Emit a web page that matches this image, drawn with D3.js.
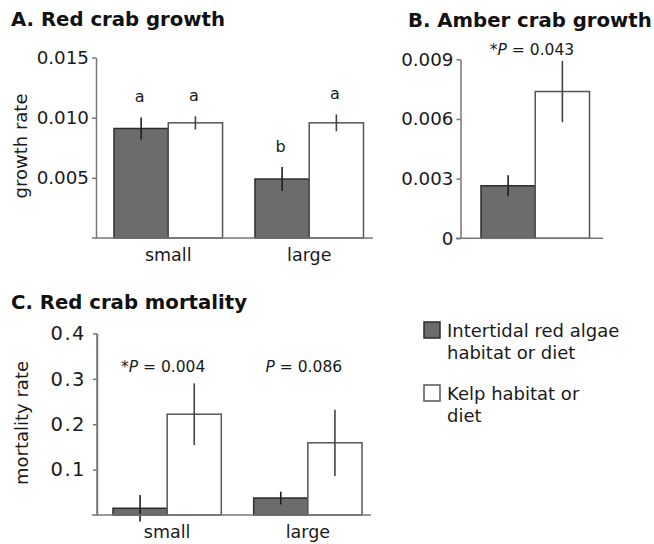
<!DOCTYPE html>
<html>
<head>
<meta charset="utf-8">
<script src="https://cdn.jsdelivr.net/npm/d3@7"></script>
<style>
  html, body { margin: 0; padding: 0; background: #fff; }
  svg { display: block; font-family: "DejaVu Sans", Verdana, sans-serif; }
  svg text { font-family: "DejaVu Sans", Verdana, sans-serif; }
  .title { font-weight: bold; font-size: 19.7px; fill: #111; }
  .tick text { font-size: 18.3px; fill: #1a1a1a; }
  .tick line { stroke: #777; stroke-width: 1.5; }
  .domain { stroke: #777; stroke-width: 1.5; }
  .ylab { font-size: 18px; fill: #1a1a1a; }
  .xlab { font-size: 17.5px; fill: #1a1a1a; }
  .note { font-size: 15.5px; fill: #1a1a1a; }
  .legend text { font-size: 18px; fill: #1a1a1a; }
</style>
</head>
<body>
<svg id="chart" width="654" height="544"></svg>
<script>
// Size classes and habitat/diet treatments
const sizeClasses = ["small", "large"];
const treatments = ["red", "kelp"];
const treatmentLabels = [["Intertidal red algae", "habitat or diet"], ["Kelp habitat or", "diet"]];

// A. Red crab growth (mean ± SE per size class)
const redGrowthRed = [0.0091, 0.0049];
const redGrowthRedSE = [0.00092, 0.0010];
const redGrowthKelp = [0.00957, 0.00957];
const redGrowthKelpSE = [0.00055, 0.0007];
const redGrowthLetters = [["a", "a"], ["b", "a"]];
const redGrowthTicks = [0.005, 0.010, 0.015];

// B. Amber crab growth
const amberGrowth = [0.00264, 0.00738];
const amberGrowthSE = [0.00053, 0.00154];
const amberP = { star: "*", value: "0.043" };
const amberTicks = [0, 0.003, 0.006, 0.009];

// C. Red crab mortality
const mortalityRed = [0.0148, 0.0374];
const mortalityRedSE = [0.029, 0.014];
const mortalityKelp = [0.222, 0.159];
const mortalityKelpSE = [0.068, 0.073];
const mortalityP = [{ star: "*", value: "0.004" }, { star: "", value: "0.086" }];
const mortalityTicks = [0.1, 0.2, 0.3, 0.4];

const fills = { red: "#6c6c6c", kelp: "#ffffff" };
const strokes = { red: "#2b2b2b", kelp: "#555555" };
const errColor = { red: "#1e1e1e", kelp: "#444444" };
const FONT = '"DejaVu Sans", Verdana, sans-serif';

const svg = d3.select("#chart");

function rows(redVals, redSE, kelpVals, kelpSE) {
  return sizeClasses.map((s, i) => ({
    group: s,
    bars: [
      { key: "red", v: redVals[i], e: redSE[i] },
      { key: "kelp", v: kelpVals[i], e: kelpSE[i] }
    ]
  }));
}

function drawBars(g, data, x0, x1, y) {
  const grp = g.selectAll("g.grp").data(data).join("g")
    .attr("class", "grp")
    .attr("transform", d => `translate(${x0(d.group)},0)`);
  grp.selectAll("rect").data(d => d.bars).join("rect")
    .attr("x", d => x1(d.key))
    .attr("width", x1.bandwidth())
    .attr("y", d => y(d.v))
    .attr("height", d => y(0) - y(d.v))
    .attr("fill", d => fills[d.key])
    .attr("stroke", d => strokes[d.key])
    .attr("stroke-width", 1.5);
  grp.selectAll("line.err").data(d => d.bars).join("line")
    .attr("class", "err")
    .attr("x1", d => x1(d.key) + x1.bandwidth() / 2)
    .attr("x2", d => x1(d.key) + x1.bandwidth() / 2)
    .attr("y1", d => y(d.v + d.e))
    .attr("y2", d => y(d.v - d.e))
    .attr("stroke", d => errColor[d.key])
    .attr("stroke-width", 1.6);
  return grp;
}

function baseline(g, x0, x1, y) {
  g.append("line")
    .attr("x1", x0).attr("x2", x1)
    .attr("y1", y).attr("y2", y)
    .attr("stroke", "#777").attr("stroke-width", 1.5);
}

function yLabel(text, x, y) {
  svg.append("text").attr("class", "ylab")
    .attr("transform", `translate(${x},${y}) rotate(-90)`)
    .attr("text-anchor", "middle")
    .text(text);
}

function pLabel(sel, p) {
  sel.attr("class", "note").attr("text-anchor", "middle");
  sel.append("tspan").text(p.star);
  sel.append("tspan").attr("font-style", "italic").text("P");
  sel.append("tspan").text(" = " + p.value);
}

function styleAxis(ax) {
  ax.attr("font-family", FONT).attr("font-size", null);
}

// ---------- Panel A ----------
{
  const g = svg.append("g");
  svg.append("text").attr("class", "title").attr("x", 11).attr("y", 26).text("A. Red crab growth");
  const y = d3.scaleLinear().domain([0, 0.015]).range([238, 57.5]);
  const x0 = d3.scaleBand().domain(sizeClasses).range([114, 363.5]).paddingInner(0.23);
  const x1 = d3.scaleBand().domain(treatments).range([0, x0.bandwidth()]);
  g.append("g").attr("transform", "translate(96,0)")
    .call(d3.axisLeft(y).tickValues(redGrowthTicks).tickFormat(d3.format(".3f")).tickSize(4).tickSizeOuter(0).tickPadding(3))
    .call(styleAxis);
  const data = rows(redGrowthRed, redGrowthRedSE, redGrowthKelp, redGrowthKelpSE);
  const grp = drawBars(g, data, x0, x1, y);
  grp.selectAll("text.letter").data((d, i) => d.bars.map((b, j) => ({ ...b, letter: redGrowthLetters[i][j] })))
    .join("text").attr("class", "note letter")
    .attr("text-anchor", "middle")
    .attr("x", d => x1(d.key) + x1.bandwidth() / 2 - 1.5)
    .attr("y", d => y(d.v + d.e) - 15)
    .style("font-size", "16px")
    .text(d => d.letter);
  baseline(g, 92, 373, y(0));
  g.selectAll("text.xlab").data(sizeClasses).join("text").attr("class", "xlab")
    .attr("text-anchor", "middle")
    .attr("x", d => x0(d) + x0.bandwidth() / 2)
    .attr("y", 261)
    .text(d => d);
  yLabel("growth rate", 27, 146);
}

// ---------- Panel B ----------
{
  const g = svg.append("g");
  svg.append("text").attr("class", "title").attr("x", 408).attr("y", 27).text("B. Amber crab growth");
  const y = d3.scaleLinear().domain([0, 0.009]).range([238.3, 59.3]);
  const x1 = d3.scaleBand().domain(treatments).range([481, 589.5]);
  g.append("g").attr("transform", "translate(460.5,0)")
    .call(d3.axisLeft(y).tickValues(amberTicks).tickFormat(d => d === 0 ? "0" : d3.format(".3f")(d)).tickSize(4).tickSizeOuter(0).tickPadding(3))
    .call(styleAxis);
  const bars = treatments.map((k, i) => ({ key: k, v: amberGrowth[i], e: amberGrowthSE[i] }));
  g.selectAll("rect").data(bars).join("rect")
    .attr("x", d => x1(d.key)).attr("width", x1.bandwidth())
    .attr("y", d => y(d.v)).attr("height", d => y(0) - y(d.v))
    .attr("fill", d => fills[d.key]).attr("stroke", d => strokes[d.key]).attr("stroke-width", 1.5);
  g.selectAll("line.err").data(bars).join("line").attr("class", "err")
    .attr("x1", d => x1(d.key) + x1.bandwidth() / 2).attr("x2", d => x1(d.key) + x1.bandwidth() / 2)
    .attr("y1", d => y(d.v + d.e)).attr("y2", d => y(d.v - d.e))
    .attr("stroke", d => errColor[d.key]).attr("stroke-width", 1.6);
  baseline(g, 456, 603, y(0));
  pLabel(g.append("text").attr("x", 532).attr("y", 55), amberP);
}

// ---------- Panel C ----------
{
  const g = svg.append("g");
  svg.append("text").attr("class", "title").attr("x", 11).attr("y", 309).text("C. Red crab mortality");
  const y = d3.scaleLinear().domain([0, 0.4]).range([515, 333.4]);
  const x0 = d3.scaleBand().domain(sizeClasses).range([113, 362]).paddingInner(0.23);
  const x1 = d3.scaleBand().domain(treatments).range([0, x0.bandwidth()]);
  const ax = g.append("g").attr("transform", "translate(97,0)")
    .call(d3.axisLeft(y).tickValues(mortalityTicks).tickFormat(d3.format(".1f")).tickSize(4).tickSizeOuter(0).tickPadding(7))
    .call(styleAxis);
  ax.selectAll(".tick text").style("font-size", "19.5px").style("letter-spacing", "1.5px");
  // axis line runs down to the baseline
  g.append("line").attr("x1", 97).attr("x2", 97).attr("y1", y(0.4)).attr("y2", y(0))
    .attr("stroke", "#777").attr("stroke-width", 1.5);
  const data = rows(mortalityRed, mortalityRedSE, mortalityKelp, mortalityKelpSE);
  drawBars(g, data, x0, x1, y);
  baseline(g, 92, 371, y(0));
  g.selectAll("text.xlab").data(sizeClasses).join("text").attr("class", "xlab")
    .attr("text-anchor", "middle")
    .attr("x", d => x0(d) + x0.bandwidth() / 2)
    .attr("y", 538)
    .text(d => d);
  sizeClasses.forEach((s, i) => {
    pLabel(g.append("text").attr("x", x0(s) + x0.bandwidth() / 2 - 4).attr("y", 372), mortalityP[i]);
  });
  yLabel("mortality rate", 28, 423);
}

// ---------- Legend ----------
{
  const lg = svg.append("g").attr("class", "legend");
  const item = lg.selectAll("g").data(treatments).join("g")
    .attr("transform", (d, i) => `translate(424,${322 + i * 63})`);
  item.append("rect").attr("width", 16).attr("height", 16)
    .attr("fill", d => fills[d]).attr("stroke", d => strokes[d]).attr("stroke-width", 1.5);
  item.append("text").attr("x", 23).attr("y", 15)
    .selectAll("tspan").data((d, i) => treatmentLabels[i]).join("tspan")
    .attr("x", 23).attr("dy", (d, j) => j === 0 ? 0 : 21.5)
    .text(d => d);
}
</script>
</body>
</html>
